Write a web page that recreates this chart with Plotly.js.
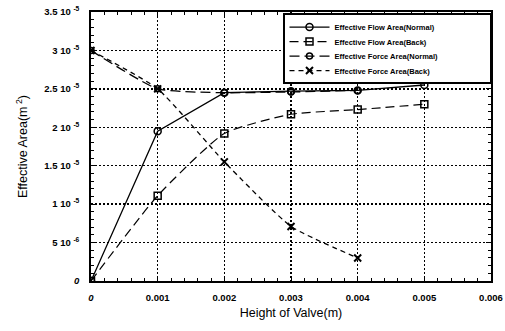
<!DOCTYPE html>
<html><head><meta charset="utf-8">
<script src="https://cdn.plot.ly/plotly-3.0.1.min.js"></script>
<style>body{margin:0;background:#fff}#c{width:505px;height:331px}</style>
</head><body><div id="c"></div>
<script>
const flowNormalX = [0, 0.001, 0.002, 0.003, 0.004, 0.005];
const flowNormalY = [0, 1.95e-5, 2.45e-5, 2.47e-5, 2.48e-5, 2.55e-5];
const flowBackX = [0, 0.001, 0.002, 0.003, 0.004, 0.005];
const flowBackY = [0, 1.11e-5, 1.92e-5, 2.17e-5, 2.23e-5, 2.30e-5];
const forceNormalX = [0, 0.001, 0.002, 0.003, 0.004];
const forceNormalY = [3.0e-5, 2.5e-5, 2.45e-5, 2.46e-5, 2.48e-5];
const forceBackX = [0, 0.001, 0.002, 0.003, 0.004];
const forceBackY = [3.0e-5, 2.5e-5, 1.55e-5, 0.71e-5, 0.30e-5];
const seriesNames = ['Effective Flow Area(Normal)', 'Effective Flow Area(Back)', 'Effective Force Area(Normal)', 'Effective Force Area(Back)'];
const yTickVals = [0, 5e-6, 1e-5, 1.5e-5, 2e-5, 2.5e-5, 3e-5, 3.5e-5];
const yTickText = ['<i>0</i>', '5 10 <sup>-6</sup>', '1 10 <sup>-5</sup>', '1.5 10 <sup>-5</sup>', '2 10 <sup>-5</sup>', '2.5 10 <sup>-5</sup>', '3 10 <sup>-5</sup>', '3.5 10 <sup>-5</sup>'];
const xTickVals = [0, 0.001, 0.002, 0.003, 0.004, 0.005, 0.006];
const xTickText = ['<i>0</i>', '0.001', '0.002', '0.003', '0.004', '0.005', '0.006'];

const traces = [
  {x: flowNormalX, y: flowNormalY, name: seriesNames[0], mode: 'lines+markers',
   line: {color: '#000', width: 1.3}, marker: {symbol: 'circle-open', size: 7, color: '#000', line: {width: 1.5}}},
  {x: flowBackX, y: flowBackY, name: seriesNames[1], mode: 'lines+markers',
   line: {color: '#000', width: 1.2, dash: '9px,5px', shape: 'spline', smoothing: 0.5}, marker: {symbol: 'square-open', size: 7, color: '#000', line: {width: 1.5}}},
  {x: forceNormalX, y: forceNormalY, name: seriesNames[2], mode: 'lines+markers',
   line: {color: '#000', width: 1.3, dash: '10px,5px', shape: 'spline', smoothing: 0.5}, marker: {symbol: 'circle-open', size: 6, color: '#000', line: {width: 1.5}}},
  {x: forceBackX, y: forceBackY, name: seriesNames[3], mode: 'lines+markers',
   line: {color: '#000', width: 1.3, dash: '5px,4px', shape: 'spline', smoothing: 0.5}, marker: {symbol: 'x-thin-open', size: 7, color: '#000', line: {width: 2, color: '#000'}}}
];

function axisCommon() {
  return {
    showline: true, linecolor: '#000', linewidth: 1.8, mirror: 'ticks',
    ticks: 'inside', ticklen: 5, tickcolor: '#000', tickwidth: 1,
    showgrid: true, gridcolor: 'rgb(0,0,0)', griddash: '2px,2px', gridwidth: 1.5,
    zeroline: false,
    tickfont: {family: 'Liberation Sans, Arial', size: 9.5, color: '#000', weight: 'bold'}
  };
}

const layout = {
  width: 505, height: 331,
  margin: {l: 91, r: 14, t: 12, b: 50},
  paper_bgcolor: '#fff', plot_bgcolor: '#fff',
  showlegend: true,
  legend: {x: 0.48, y: 0.996, xanchor: 'left', yanchor: 'top', bgcolor: '#fff', bordercolor: '#000', borderwidth: 1.5,
           font: {family: 'Liberation Sans, Arial', size: 7.5, color: '#000', weight: 'bold'}, tracegroupgap: 0, itemwidth: 40},
  xaxis: Object.assign(axisCommon(), {
    range: [0, 0.006], tickmode: 'array', tickvals: xTickVals, ticktext: xTickText, ticklabelstandoff: 7,
    minor: {tickmode: 'linear', tick0: 0, dtick: 0.0002, ticklen: 3, tickcolor: '#000', ticks: 'inside'},
    title: {text: 'Height of Valve(m)', font: {family: 'Liberation Sans, Arial', size: 12.5, color: '#000'}, standoff: 6}
  }),
  yaxis: Object.assign(axisCommon(), {
    range: [0, 3.5e-5], tickmode: 'array', tickvals: yTickVals, ticktext: yTickText, ticklabelstandoff: 8,
    minor: {tickmode: 'linear', tick0: 0, dtick: 1e-6, ticklen: 3, tickcolor: '#000', ticks: 'inside'},
    title: {text: 'Effective Area(m<sup> 2</sup>)', font: {family: 'Liberation Sans, Arial', size: 12.5, color: '#000'}, standoff: 14}
  })
};
const gd = document.getElementById('c');
Plotly.newPlot(gd, traces, layout, {displayModeBar: false, staticPlot: true}).then(function () {
  try {
    const items = gd.querySelectorAll('.legend .traces');
    const step = 14.5;
    let y0 = null, oldStep = 19;
    const ys = [];
    items.forEach(function (g) {
      const m = (g.getAttribute('transform') || '').match(/translate\(\s*([-\d.e]+)[ ,]+([-\d.e]+)\s*\)/);
      ys.push(m ? [parseFloat(m[1]), parseFloat(m[2])] : null);
    });
    if (ys.length > 1 && ys[0] && ys[1]) { y0 = ys[0][1]; oldStep = ys[1][1] - ys[0][1]; }
    items.forEach(function (g, i) {
      if (ys[i]) g.setAttribute('transform', 'translate(' + ys[i][0] + ',' + (y0 - 2 + i * step) + ')');
    });
    const bg = gd.querySelector('.legend .bg');
    if (bg) {
      const h = parseFloat(bg.getAttribute('height'));
      bg.setAttribute('height', h - (items.length - 1) * (oldStep - step) - 5);
      bg.setAttribute('width', 207);
    }
  } catch (e) {}
});
</script></body></html>
